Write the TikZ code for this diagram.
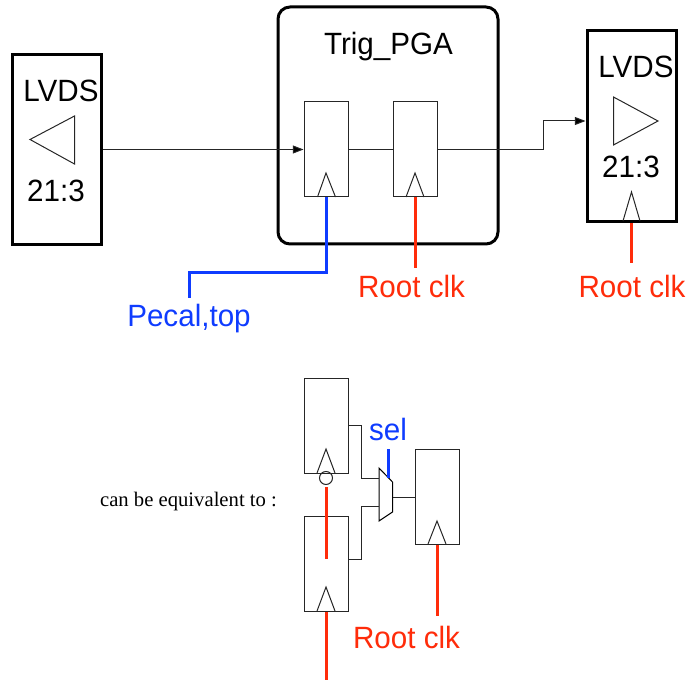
\documentclass[tikz,border=0pt]{standalone}
\usepackage{fontspec}
\usepackage{graphicx}
\setmainfont{Liberation Sans}
\newfontfamily\serifnote{Liberation Serif}
\usetikzlibrary{arrows.meta}
\definecolor{rootred}{RGB}{255,44,10}
\definecolor{pecalblue}{RGB}{15,60,255}
\newcommand{\tallt}[1]{\scalebox{1}[1.04]{#1}}
\tikzset{
  x=0.75pt,y=-0.75pt,
  thin line/.style={line width=0.75pt,draw=black!85},
  ff/.style={thin line,rectangle,inner sep=0pt,minimum width=33pt,minimum height=71.25pt},
  lvdsbox/.style={rectangle,draw=black,line width=2.25pt,inner sep=0pt,minimum width=66.75pt,minimum height=143pt},
  wire/.style={thin line},
  arrowwire/.style={thin line,-{Triangle[length=8pt,width=6pt,fill=black]}},
  clocktri/.style={thin line,line join=miter},
  redclk/.style={draw=rootred,line width=2.25pt},
  blueclk/.style={draw=pecalblue,line width=2.25pt},
  lab/.style={inner sep=0pt,anchor=base,font=\fontsize{22.2}{26}\selectfont},
  redlab/.style={lab,text=rootred},
  bluelab/.style={lab,text=pecalblue},
}
\begin{document}
\begin{tikzpicture}
\path[use as bounding box] (0,0) rectangle (686,681);
% top row
\node[lvdsbox] (lvdsL) at (56.5,149.5) {};
\node[lvdsbox] (lvdsR) at (631.5,126) {};
\node[rectangle,draw=black,line width=2.25pt,rounded corners=9pt,inner sep=0pt,minimum width=165pt,minimum height=177.75pt] (pga) at (388,125.5) {};
\node[ff] (ff1) at (326,149.5) {};
\node[ff] (ff2) at (415,149.5) {};
\draw[clocktri] (317.5,197) -- (326,173) -- (335.5,197);
\draw[clocktri] (406,197) -- (415,173) -- (424,197);
\draw[clocktri] (623,221) -- (631.5,192) -- (640,221);
\draw[thin line,line join=miter] (74.5,116) -- (30,139.5) -- (74.5,164) -- cycle;
\draw[thin line,line join=miter] (613.5,97) -- (658,121) -- (613.5,145) -- cycle;
\draw[arrowwire] (lvdsL.east) -- (ff1.west);
\draw[wire] (ff1.east) -- (ff2.west);
\coordinate (rIn) at (lvdsR.west |- 0,121);
\coordinate (jog) at (543.5,121);
\draw[arrowwire] (ff2.east) -| (jog) -- (rIn);
\node[lab] (tLvdsL) at (61,102) {\tallt{LVDS}};
\node[lab] (t21L) at (56,202) {\tallt{21:3}};
\node[lab] (tLvdsR) at (636,78) {\tallt{LVDS}};
\node[lab] (t21R) at (631,178) {\tallt{21:3}};
\node[lab] (tPga) at (388.5,55) {\tallt{Trig\_PGA}};
\node[redlab] (rc1) at (411.5,297) {\tallt{Root clk}};
\node[redlab] (rc2) at (632,297) {\tallt{Root clk}};
\node[bluelab] (pecal) at (189,326) {\tallt{Pecal,top}};
\coordinate (rc1top) at (ff2.south |- 0,268);
\coordinate (rc2top) at (lvdsR.south |- 0,263);
\draw[redclk] (ff2.south) -- (rc1top);
\draw[redclk] (lvdsR.south) -- (rc2top);
\coordinate (pecalTop) at (189,298);
\coordinate (pecalKnee) at (326,272.5);
\draw[blueclk,line join=miter] (ff1.south) -- (pecalKnee) -- (pecalKnee -| pecalTop) -- (pecalTop);
% bottom
\node[ff] (ffa) at (326,425.5) {};
\node[ff] (ffb) at (326,563.5) {};
\node[ff] (ffc) at (437,496.5) {};
\draw[clocktri] (317,473) -- (326,449) -- (335,473);
\draw[clocktri] (317,611) -- (326,587) -- (335,611);
\draw[clocktri] (428,544) -- (437,521) -- (446,544);
\node[circle,thin line,inner sep=0pt,minimum size=9.75pt] (inv) at (326,478) {};
\coordinate (muxNW) at (379,468);
\coordinate (muxNE) at (392.5,482);
\coordinate (muxSE) at (392.5,512);
\coordinate (muxSW) at (379,521);
\draw[thin line,draw=black,line join=miter] (muxNW) -- (muxNE) -- (muxSE) -- (muxSW) -- cycle;
\coordinate (muxA) at (379,478);
\coordinate (muxB) at (379,506.5);
\coordinate (muxOut) at (392.5,497);
\coordinate (midA) at (361.5,425.5);
\coordinate (midB) at (361.5,559);
\draw[wire] (ffa.east) -- (midA) -- (midA |- muxA) -- (muxA);
\draw[wire] (ffb.east |- midB) -- (midB) -- (midB |- muxB) -- (muxB);
\draw[wire] (muxOut) -- (muxOut -| ffc.west);
\coordinate (aEnd) at (326,559);
\coordinate (aStart) at (326,487);
\draw[redclk] (aStart) -- (aEnd);
\coordinate (bEnd) at (326,680);
\draw[redclk] (ffb.south) -- (bEnd);
\coordinate (cEnd) at (437,616);
\draw[redclk] (ffc.south) -- (cEnd);
\coordinate (selTop) at (388.5,449);
\coordinate (selEnd) at (388.5,478);
\draw[blueclk] (selTop) -- (selEnd);
\node[bluelab] (sel) at (388,440) {\tallt{sel}};
\node[redlab] (rc3) at (406.5,648) {\tallt{Root clk}};
\node[inner sep=0pt,anchor=base,font=\serifnote\fontsize{15.5}{18}\selectfont] (note) at (188.5,506) {can be equivalent to :};
\end{tikzpicture}
\end{document}
